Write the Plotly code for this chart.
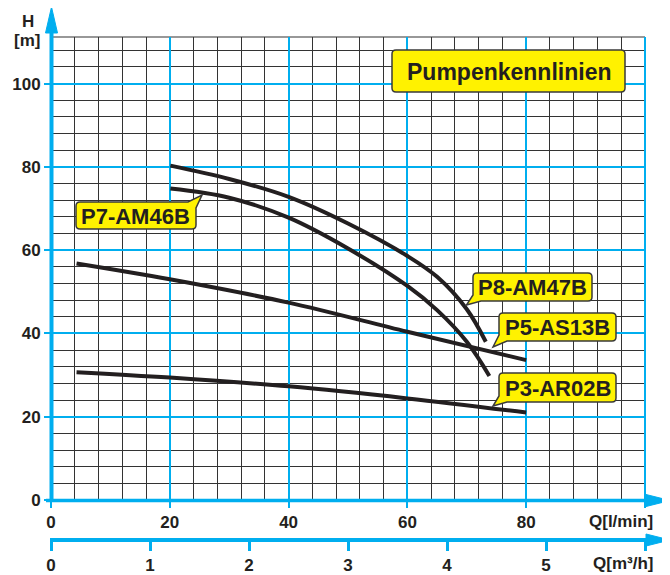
import plotly.graph_objects as go

# ---------------- data ----------------
p8_q = [20.1, 30, 40, 50, 60, 65, 70, 73.2]
p8_h = [80.3, 77.1, 72.8, 66.4, 58.6, 53.6, 45.8, 38.0]
p7_q = [20.1, 30, 40, 50, 60, 65, 70, 73.8]
p7_h = [74.8, 72.6, 67.8, 60.4, 51.4, 45.6, 38.0, 29.8]
p5_q = [4.3, 20, 40, 60, 80]
p5_h = [56.8, 53.0, 47.4, 40.4, 33.6]
p3_q = [4.3, 20, 40, 60, 80]
p3_h = [30.7, 29.4, 27.3, 24.4, 21.0]

q_ticks = [0, 20, 40, 60, 80, 100]
q_ticktext = ["0", "20", "40", "60", "80", ""]
h_ticks = [0, 20, 40, 60, 80, 100]
m3_ticks = [0, 1, 2, 3, 4, 5, 6]
m3_ticktext = ["0", "1", "2", "3", "4", "5", ""]

series_names = ["P8-AM47B", "P7-AM46B", "P5-AS13B", "P3-AR02B"]
title_text = "Pumpenkennlinien"

# ---------------- style ----------------
BLUE = "#00AEEF"
INK = "#231F20"
YELLOW = "#FFF200"
GRID = "#333333"
FONT = "Liberation Sans"

W, H = 670, 575
# page body adds an 8px offset; margins are set so that the plot lands at
# screen x 51..645 and paper y spans screen 37..540
ML, MR, MT, MB = 43, 33, 29, 43
SX0, SX1, SY0, SY1 = 51, 645, 37, 540


def px(s):
    return (s - SX0) / (SX1 - SX0)


def py(s):
    return (SY1 - s) / (SY1 - SY0)


fig = go.Figure()
for qs, hs, name in [(p8_q, p8_h, series_names[0]), (p7_q, p7_h, series_names[1]),
                     (p5_q, p5_h, series_names[2]), (p3_q, p3_h, series_names[3])]:
    fig.add_trace(go.Scatter(x=qs, y=hs, mode="lines", name=name,
                             line=dict(color=INK, width=4, shape="spline", smoothing=1.0),
                             hoverinfo="skip"))
# invisible trace to activate the m3/h axis
fig.add_trace(go.Scatter(x=[0, 6], y=[0, 0], xaxis="x2", mode="markers",
                         marker=dict(opacity=0), hoverinfo="skip", showlegend=False))

tickfont = dict(family=FONT, size=17, color=INK, weight="bold")

fig.update_layout(
    width=W, height=H,
    margin=dict(l=ML, r=MR, t=MT, b=MB, autoexpand=False),
    plot_bgcolor="white", paper_bgcolor="white",
    showlegend=False,
    xaxis=dict(range=[0, 100], tickmode="array", tickvals=q_ticks, ticktext=q_ticktext,
               showgrid=True, gridcolor=BLUE, gridwidth=2,
               minor=dict(tickmode="linear", tick0=0, dtick=4, showgrid=True,
                          gridcolor=GRID, gridwidth=1, ticks=""),
               ticks="outside", ticklen=7, tickwidth=2, tickcolor=BLUE,
               zeroline=False, showline=False, tickfont=tickfont,
               ticklabelstandoff=0, anchor="y", fixedrange=True, automargin=False),
    yaxis=dict(range=[0, 111.2], domain=[py(500), 1], tickmode="array", tickvals=h_ticks,
               showgrid=True, gridcolor=BLUE, gridwidth=2,
               minor=dict(tickmode="linear", tick0=0, dtick=4, showgrid=True,
                          gridcolor=GRID, gridwidth=1, ticks=""),
               ticks="outside", ticklen=6, tickwidth=2, tickcolor=BLUE,
               zeroline=False, showline=False, tickfont=tickfont,
               ticklabelstandoff=0, fixedrange=True, automargin=False),
    xaxis2=dict(overlaying="x", anchor="free", position=0, side="bottom",
                range=[0, 6], tickmode="array", tickvals=m3_ticks, ticktext=m3_ticktext,
                ticks="outside", ticklen=10, tickwidth=3, tickcolor=BLUE,
                showgrid=False, zeroline=False, showline=False, tickfont=tickfont,
                ticklabelstandoff=0, fixedrange=True, automargin=False),
)

shapes = []
# top border of grid
shapes.append(dict(type="line", xref="paper", yref="paper", x0=0, x1=1, y0=1, y1=1,
                   line=dict(color=GRID, width=1.2), layer="below"))
# right border (blue)
shapes.append(dict(type="line", xref="paper", yref="paper", x0=1, x1=1, y0=py(507), y1=1,
                   line=dict(color=BLUE, width=2)))
# y axis line + arrow
shapes.append(dict(type="line", xref="paper", yref="paper", x0=px(51.5), x1=px(51.5),
                   y0=py(502), y1=py(30), line=dict(color=BLUE, width=4)))
shapes.append(dict(type="path", xref="paper", yref="paper",
                   path=f"M {px(45.5)},{py(33)} L {px(51.5)},{py(7)} L {px(57.5)},{py(33)} Z",
                   fillcolor=BLUE, line=dict(color=BLUE, width=1)))
# x axis line + arrow (l/min)
shapes.append(dict(type="line", xref="paper", yref="paper", x0=px(46), x1=px(650),
                   y0=py(500.5), y1=py(500.5), line=dict(color=BLUE, width=3.5)))
shapes.append(dict(type="path", xref="paper", yref="paper",
                   path=f"M {px(646)},{py(494.5)} L {px(670)},{py(500.5)} L {px(646)},{py(506.5)} Z",
                   fillcolor=BLUE, line=dict(color=BLUE, width=1)))
# second x axis line + arrow (m3/h)
shapes.append(dict(type="line", xref="paper", yref="paper", x0=px(50), x1=px(650),
                   y0=py(540), y1=py(540), line=dict(color=BLUE, width=4)))
shapes.append(dict(type="path", xref="paper", yref="paper",
                   path=f"M {px(646)},{py(534)} L {px(670)},{py(540)} L {px(646)},{py(546)} Z",
                   fillcolor=BLUE, line=dict(color=BLUE, width=1)))


def callout(x0, y0, x1, y1, r=4, corner=None, tip=None, a=8, b=6):
    def P(x, y):
        return f"{px(x):.5f},{py(y):.5f}"
    d = f"M {P(x0 + r, y0)} "
    if corner == "tr":
        d += f"L {P(x1 - a, y0)} L {P(*tip)} L {P(x1, y0 + b)} "
    else:
        d += f"L {P(x1 - r, y0)} Q {P(x1, y0)} {P(x1, y0 + r)} "
    d += f"L {P(x1, y1 - r)} Q {P(x1, y1)} {P(x1 - r, y1)} "
    if corner == "bl":
        d += f"L {P(x0 + a, y1)} L {P(*tip)} L {P(x0, y1 - b)} "
    else:
        d += f"L {P(x0 + r, y1)} Q {P(x0, y1)} {P(x0, y1 - r)} "
    d += f"L {P(x0, y0 + r)} Q {P(x0, y0)} {P(x0 + r, y0)} Z"
    return dict(type="path", xref="paper", yref="paper", path=d, fillcolor=YELLOW,
                line=dict(color="#3a3a3a", width=1.5), layer="above")


boxes = [
    (title_text, (392, 50, 625, 92), None, None, 23),
    (series_names[1], (76, 202, 196, 229), "tr", (202, 195), 22),
    (series_names[0], (473, 273, 592, 301), "bl", (466.5, 305), 22),
    (series_names[2], (499, 313, 616, 341), "bl", (493, 347), 22),
    (series_names[3], (499, 373, 616, 402), "bl", (493, 406), 22),
]
annotations = []
for text, (x0, y0, x1, y1), corner, tip, fs in boxes:
    shapes.append(callout(x0, y0, x1, y1, corner=corner, tip=tip))
    annotations.append(dict(xref="paper", yref="paper", x=px((x0 + x1) / 2), y=py((y0 + y1) / 2 + 0.5),
                            text=text, showarrow=False, xanchor="center", yanchor="middle",
                            font=dict(family=FONT, size=fs, color=INK, weight="bold")))

labfont = dict(family=FONT, size=17, color=INK, weight="bold")
annotations += [
    dict(xref="paper", yref="paper", x=px(28), y=py(21), text="H", showarrow=False,
         xanchor="center", yanchor="middle", font=labfont),
    dict(xref="paper", yref="paper", x=px(27), y=py(41), text="[m]", showarrow=False,
         xanchor="center", yanchor="middle", font=labfont),
    dict(xref="paper", yref="paper", x=px(655), y=py(521), text="Q[l/min]", showarrow=False,
         xanchor="right", yanchor="middle", font=labfont),
    dict(xref="paper", yref="paper", x=px(655), y=py(563), text="Q[m³/h]", showarrow=False,
         xanchor="right", yanchor="middle", font=labfont),
]

fig.update_layout(shapes=shapes, annotations=annotations)
fig.write_html("out.html")
